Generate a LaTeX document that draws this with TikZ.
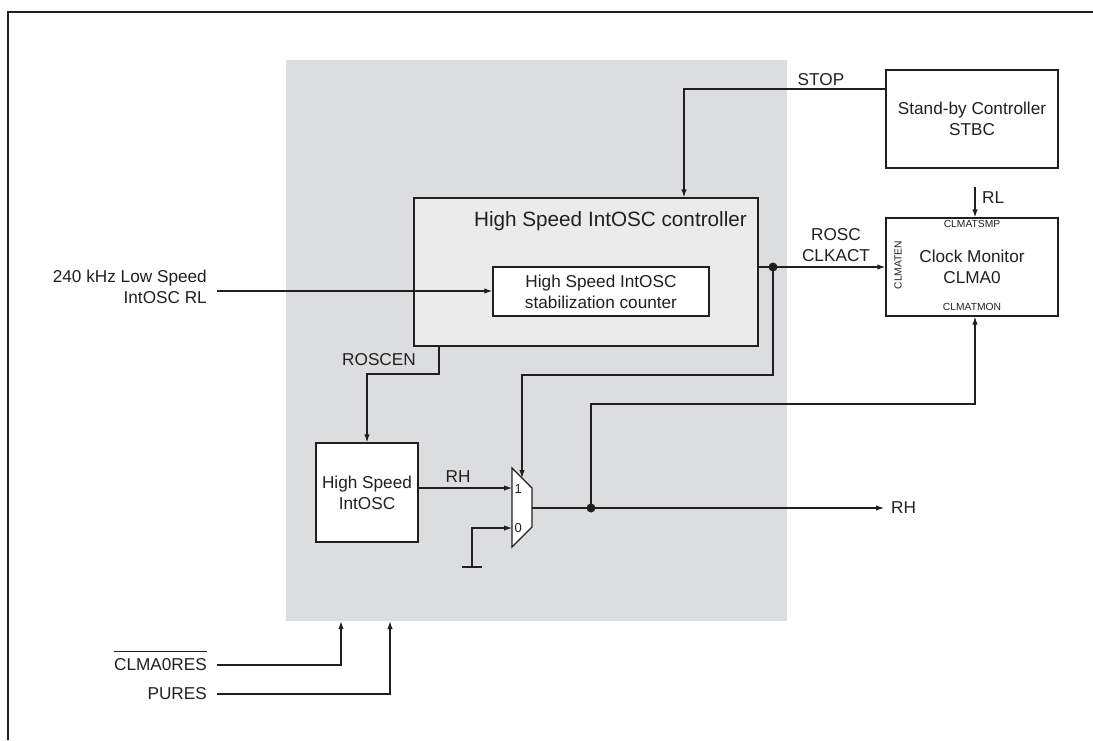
\documentclass[tikz,border=0pt]{standalone}
\usepackage{fontspec}
\setmainfont{Liberation Sans}
\usetikzlibrary{arrows.meta,calc}
\definecolor{bggray}{HTML}{DCDDDF}
\definecolor{ctrlgray}{HTML}{EBEBEB}
\definecolor{ink}{HTML}{231F20}
\begin{document}
\begin{tikzpicture}[x=1pt,y=-1pt,
  every node/.style={font=\fontsize{17.2}{21}\selectfont, text=ink, inner sep=0pt},
  box/.style={draw=ink, line width=1.4pt, fill=white, align=center},
  wire/.style={draw=ink, line width=1.1pt},
  arr/.style={wire, -{Latex[length=8pt,width=5.5pt]}},
  smalltxt/.style={font=\fontsize{10.3}{12}\selectfont},
  bigtxt/.style={font=\fontsize{20.7}{24}\selectfont},
  jdot/.style={circle, fill=ink, minimum size=9pt}
]
\useasboundingbox (0,0) rectangle (1093,740);
% frame
\draw[line width=2.2pt, ink] (8,740) -- (8,12) -- (1093,12);

% grey region
\node[fill=bggray, minimum width=501pt, minimum height=561pt] (gray) at (536.5,340.5) {};

% blocks
\node[box, fill=ctrlgray, minimum width=344pt, minimum height=148pt] (ctrl) at (586,272) {};
\node[bigtxt, anchor=east] (ctrltitle) at (747,221) {High Speed IntOSC controller};
\node[box, minimum width=216pt, minimum height=49pt] (cnt) at (601,291.5) {High Speed IntOSC\\stabilization counter};
\node[box, minimum width=172pt, minimum height=98pt] (stbc) at (972,119) {Stand-by Controller\\STBC};
\node[box, minimum width=172pt, minimum height=98pt] (clma) at (972,267) {Clock Monitor\\CLMA0};
\node[box, minimum width=102pt, minimum height=99pt] (hsi) at (367,492.5) {High Speed\\IntOSC};

% CLMA port labels
\node[smalltxt] (tsmp) at (972,224) {CLMATSMP};
\node[smalltxt] (tmon) at (972,307) {CLMATMON};
\node[smalltxt, rotate=90] (ten) at (898,265) {CLMATEN};

% multiplexer
\coordinate (mtl) at (512,468);
\coordinate (mtr) at (532,488);
\coordinate (mbr) at (532,527);
\coordinate (mbl) at (512,547);
\draw[draw=ink, line width=1.3pt, fill=white] (mtl) -- (mtr) -- (mbr) -- (mbl) -- cycle;
\coordinate (min1) at (512,488);
\coordinate (min0) at (512,528);
\coordinate (mout) at (532,508);
\coordinate (msel) at (522,478);
\node[font=\fontsize{13}{13}\selectfont, anchor=west] (one) at (514.5,489) {1};
\node[font=\fontsize{13}{13}\selectfont, anchor=west] (zero) at (514.5,528) {0};

% STOP
\coordinate (stopc) at (684,89);
\draw[arr] (stbc.west |- stopc) -- (stopc) -- (stopc |- ctrl.north);
\node (stoplbl) at (821,80) {STOP};

% RL into CLMA
\coordinate (rlsrc) at (975,187);
\draw[arr] (rlsrc) -- (rlsrc |- clma.north);
\node[anchor=west] (rllbl) at (982,198) {RL};

% ROSC CLKACT
\coordinate (j1) at (773,267);
\draw[wire] (ctrl.east |- j1) -- (j1);
\draw[arr] (j1) -- (clma.west);
\node[align=center] (clkact) at (836,245.5) {ROSC\\CLKACT};
\coordinate (selturn) at (522,375);
\draw[arr] (j1) |- (selturn) -- (msel);
\node[jdot] (d1) at (j1) {};

% 240 kHz input
\coordinate (lsin) at (217,291);
\draw[arr] (lsin) -- (lsin -| cnt.west);
\node[anchor=east, align=right] (lslbl) at (207,286.5) {240 kHz Low Speed\\IntOSC RL};

% ROSCEN
\coordinate (rcn) at (439,374);
\draw[arr] (rcn |- ctrl.south) -- (rcn) -| (hsi.north);
\node (rcnlbl) at (379,360) {ROSCEN};

% RH into mux
\draw[arr] (hsi.east |- min1) -- (min1);
\node (rhlbl) at (458,477) {RH};

% ground into input 0
\coordinate (gnd) at (472,567);
\coordinate (gndl) at (462,567);
\coordinate (gndr) at (482,567);
\draw[arr] (gnd) |- (min0);
\draw[wire] (gndl) -- (gndr);

% output
\coordinate (j2) at (591,508);
\coordinate (rhout) at (884,508);
\draw[arr] (mout) -- (rhout);
\node[anchor=west] (rhoutlbl) at (891,508) {RH};
\coordinate (mon) at (975,404);
\draw[arr] (j2) |- (mon) -- (mon |- clma.south);
\node[jdot] (d2) at (j2) {};

% resets
\coordinate (cres) at (217,665);
\coordinate (cr1) at (341,665);
\coordinate (pures) at (217,694);
\coordinate (pu1) at (390,694);
\draw[arr] (cres) -- (cr1) -- (cr1 |- gray.south);
\draw[arr] (pures) -- (pu1) -- (pu1 |- gray.south);
\node[anchor=base east] (creslbl) at (207,670.5) {$\overline{\rule{0pt}{17.5pt}\mbox{CLMA0RES}}$};
\node[anchor=east] (pureslbl) at (207,694) {PURES};
\end{tikzpicture}
\end{document}
